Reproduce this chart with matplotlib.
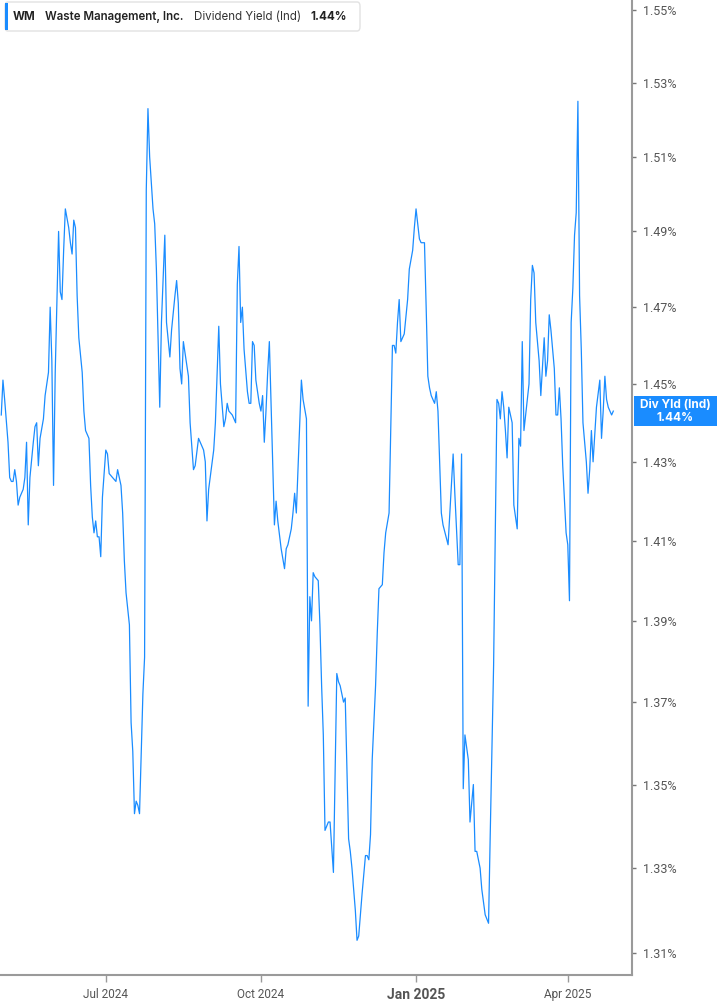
import pandas as pd
import matplotlib
matplotlib.use('Agg')
import matplotlib.pyplot as plt
from matplotlib.ticker import FixedLocator, NullLocator, FuncFormatter
from matplotlib.patches import Rectangle, FancyBboxPatch

# Dividend yield (indicated) for WM, %
fechas = [
    '2024-04-30', '2024-05-01', '2024-05-02', '2024-05-04', '2024-05-05', '2024-05-06', '2024-05-07',
    '2024-05-08', '2024-05-09', '2024-05-10', '2024-05-11', '2024-05-13', '2024-05-14', '2024-05-15',
    '2024-05-16', '2024-05-17', '2024-05-19', '2024-05-20', '2024-05-21', '2024-05-22', '2024-05-23',
    '2024-05-25', '2024-05-26', '2024-05-28', '2024-05-29', '2024-05-30', '2024-05-31', '2024-06-01',
    '2024-06-02', '2024-06-03', '2024-06-04', '2024-06-05', '2024-06-06', '2024-06-07', '2024-06-09',
    '2024-06-10', '2024-06-11', '2024-06-12', '2024-06-13', '2024-06-14', '2024-06-15', '2024-06-17',
    '2024-06-18', '2024-06-19', '2024-06-21', '2024-06-22', '2024-06-23', '2024-06-24', '2024-06-25',
    '2024-06-26', '2024-06-27', '2024-06-28', '2024-06-29', '2024-07-01', '2024-07-02', '2024-07-03',
    '2024-07-05', '2024-07-07', '2024-07-08', '2024-07-10', '2024-07-11', '2024-07-12', '2024-07-13',
    '2024-07-15', '2024-07-16', '2024-07-17', '2024-07-18', '2024-07-19', '2024-07-20', '2024-07-21',
    '2024-07-23', '2024-07-24', '2024-07-25', '2024-07-26', '2024-07-27', '2024-07-29', '2024-07-30',
    '2024-07-31', '2024-08-02', '2024-08-03', '2024-08-05', '2024-08-06', '2024-08-08', '2024-08-09',
    '2024-08-11', '2024-08-12', '2024-08-13', '2024-08-14', '2024-08-15', '2024-08-16', '2024-08-19',
    '2024-08-20', '2024-08-22', '2024-08-23', '2024-08-25', '2024-08-27', '2024-08-28', '2024-08-29',
    '2024-08-30', '2024-08-31', '2024-09-03', '2024-09-04', '2024-09-06', '2024-09-07', '2024-09-09',
    '2024-09-10', '2024-09-11', '2024-09-12', '2024-09-14', '2024-09-15', '2024-09-16', '2024-09-17',
    '2024-09-18', '2024-09-19', '2024-09-20', '2024-09-21', '2024-09-23', '2024-09-24', '2024-09-25',
    '2024-09-26', '2024-09-27', '2024-09-28', '2024-09-30', '2024-10-01', '2024-10-02', '2024-10-03',
    '2024-10-04', '2024-10-05', '2024-10-06', '2024-10-09', '2024-10-10', '2024-10-11', '2024-10-13',
    '2024-10-15', '2024-10-16', '2024-10-17', '2024-10-19', '2024-10-20', '2024-10-21', '2024-10-22',
    '2024-10-25', '2024-10-26', '2024-10-28', '2024-10-29', '2024-10-30', '2024-10-31', '2024-11-01',
    '2024-11-02', '2024-11-04', '2024-11-05', '2024-11-06', '2024-11-07', '2024-11-08', '2024-11-10',
    '2024-11-11', '2024-11-12', '2024-11-13', '2024-11-14', '2024-11-15', '2024-11-16', '2024-11-17',
    '2024-11-19', '2024-11-20', '2024-11-21', '2024-11-22', '2024-11-23', '2024-11-24', '2024-11-26',
    '2024-11-27', '2024-11-28', '2024-11-30', '2024-12-02', '2024-12-03', '2024-12-04', '2024-12-05',
    '2024-12-06', '2024-12-08', '2024-12-09', '2024-12-10', '2024-12-12', '2024-12-13', '2024-12-14',
    '2024-12-16', '2024-12-18', '2024-12-19', '2024-12-20', '2024-12-21', '2024-12-22', '2024-12-23',
    '2024-12-25', '2024-12-27', '2024-12-28', '2024-12-30', '2024-12-31', '2025-01-01', '2025-01-03',
    '2025-01-04', '2025-01-06', '2025-01-07', '2025-01-08', '2025-01-09', '2025-01-10', '2025-01-11',
    '2025-01-12', '2025-01-13', '2025-01-14', '2025-01-16', '2025-01-17', '2025-01-20', '2025-01-23',
    '2025-01-24', '2025-01-26', '2025-01-27', '2025-01-28', '2025-01-29', '2025-01-30', '2025-02-01',
    '2025-02-02', '2025-02-04', '2025-02-05', '2025-02-06', '2025-02-08', '2025-02-09', '2025-02-11',
    '2025-02-13', '2025-02-14', '2025-02-16', '2025-02-18', '2025-02-19', '2025-02-20', '2025-02-21',
    '2025-02-22', '2025-02-23', '2025-02-24', '2025-02-25', '2025-02-27', '2025-02-28', '2025-03-01',
    '2025-03-02', '2025-03-03', '2025-03-04', '2025-03-05', '2025-03-06', '2025-03-07', '2025-03-09',
    '2025-03-10', '2025-03-11', '2025-03-12', '2025-03-13', '2025-03-15', '2025-03-16', '2025-03-18',
    '2025-03-19', '2025-03-20', '2025-03-21', '2025-03-22', '2025-03-23', '2025-03-24', '2025-03-25',
    '2025-03-26', '2025-03-27', '2025-03-28', '2025-03-29', '2025-03-31', '2025-04-01', '2025-04-02',
    '2025-04-03', '2025-04-04', '2025-04-05', '2025-04-06', '2025-04-07', '2025-04-08', '2025-04-09',
    '2025-04-10', '2025-04-12', '2025-04-13', '2025-04-14', '2025-04-15', '2025-04-16', '2025-04-17',
    '2025-04-18', '2025-04-20', '2025-04-21', '2025-04-22', '2025-04-23', '2025-04-24', '2025-04-25',
    '2025-04-26', '2025-04-27', '2025-04-28',
]

rendimiento = [
    1.442, 1.451, 1.446, 1.435, 1.426, 1.425, 1.425, 1.428, 1.425, 1.419, 1.421, 1.423, 1.426, 1.435,
    1.414, 1.426, 1.435, 1.439, 1.440, 1.429, 1.436, 1.441, 1.447, 1.453, 1.470, 1.456, 1.424, 1.453,
    1.472, 1.490, 1.474, 1.472, 1.485, 1.496, 1.491, 1.487, 1.484, 1.493, 1.491, 1.473, 1.462, 1.453,
    1.443, 1.438, 1.436, 1.424, 1.416, 1.412, 1.415, 1.411, 1.411, 1.406, 1.421, 1.433, 1.432, 1.427,
    1.426, 1.425, 1.428, 1.424, 1.417, 1.405, 1.397, 1.389, 1.365, 1.358, 1.343, 1.346, 1.345, 1.343,
    1.372, 1.381, 1.501, 1.523, 1.510, 1.496, 1.492, 1.480, 1.444, 1.466, 1.489, 1.466, 1.457, 1.464,
    1.473, 1.477, 1.471, 1.454, 1.450, 1.461, 1.452, 1.440, 1.428, 1.429, 1.436, 1.434, 1.433, 1.430,
    1.415, 1.423, 1.433, 1.440, 1.465, 1.450, 1.439, 1.441, 1.445, 1.443, 1.442, 1.441, 1.440, 1.476,
    1.486, 1.466, 1.470, 1.459, 1.448, 1.445, 1.445, 1.461, 1.460, 1.451, 1.445, 1.443, 1.447, 1.435,
    1.443, 1.453, 1.461, 1.414, 1.420, 1.415, 1.408, 1.403, 1.408, 1.409, 1.413, 1.417, 1.422, 1.417,
    1.451, 1.446, 1.441, 1.369, 1.396, 1.390, 1.402, 1.401, 1.400, 1.389, 1.374, 1.362, 1.339, 1.341,
    1.341, 1.335, 1.329, 1.353, 1.377, 1.375, 1.374, 1.370, 1.371, 1.354, 1.337, 1.334, 1.330, 1.320,
    1.313, 1.314, 1.324, 1.333, 1.333, 1.332, 1.338, 1.356, 1.374, 1.387, 1.398, 1.399, 1.407, 1.412,
    1.417, 1.460, 1.460, 1.458, 1.466, 1.472, 1.461, 1.463, 1.472, 1.480, 1.485, 1.491, 1.496, 1.488,
    1.487, 1.487, 1.470, 1.452, 1.449, 1.447, 1.446, 1.445, 1.448, 1.443, 1.417, 1.414, 1.409, 1.432,
    1.422, 1.404, 1.404, 1.432, 1.349, 1.362, 1.356, 1.341, 1.350, 1.334, 1.334, 1.330, 1.325, 1.319,
    1.317, 1.338, 1.379, 1.446, 1.445, 1.441, 1.448, 1.444, 1.438, 1.431, 1.444, 1.440, 1.419, 1.416,
    1.413, 1.436, 1.434, 1.461, 1.438, 1.442, 1.450, 1.472, 1.481, 1.479, 1.466, 1.456, 1.447, 1.462,
    1.452, 1.456, 1.468, 1.464, 1.459, 1.454, 1.442, 1.442, 1.449, 1.441, 1.429, 1.412, 1.409, 1.395,
    1.466, 1.475, 1.489, 1.495, 1.525, 1.473, 1.459, 1.440, 1.430, 1.422, 1.428, 1.438, 1.430, 1.437,
    1.444, 1.451, 1.436, 1.443, 1.452, 1.446, 1.444, 1.443, 1.442, 1.443,
]

ticks_y = [1.31, 1.33, 1.35, 1.37, 1.39, 1.41, 1.43, 1.45, 1.47, 1.49, 1.51, 1.53, 1.55]
ticks_x = ['2024-07-01', '2024-10-01', '2025-01-01', '2025-04-01']
etiquetas_x = ['Jul 2024', 'Oct 2024', 'Jan 2025', 'Apr 2025']

fechas = pd.to_datetime(fechas)
ultimo = rendimiento[-1]

AZUL = '#1a8cff'
GRIS = '#9a9a9a'
TEXTO = '#555555'
W, H = 717, 1005

plt.rcParams['font.family'] = ['Roboto', 'DejaVu Sans']

fig = plt.figure(figsize=(W / 100, H / 100), dpi=100)
ax = fig.add_axes([0, 30 / H, 632 / W, 975 / H])

ax.plot(fechas, rendimiento, color=AZUL, linewidth=0.9)

ax.set_yscale('log')
ax.set_ylim(1.3049, 1.5528)
ax.set_xlim(pd.Timestamp('2024-04-29 06:00'), pd.Timestamp('2025-05-09 02:00'))

ax.yaxis.tick_right()
ax.yaxis.set_major_locator(FixedLocator(ticks_y))
ax.yaxis.set_minor_locator(NullLocator())
ax.yaxis.set_major_formatter(FuncFormatter(lambda v, p: f'{v:.2f}%'))
ax.tick_params(axis='y', which='major', length=3, width=1, color='#777777',
               labelcolor=TEXTO, labelsize=9, pad=5)

ax.set_xticks(pd.to_datetime(ticks_x))
ax.set_xticklabels(etiquetas_x)
ax.xaxis.set_minor_locator(NullLocator())
ax.tick_params(axis='x', length=5, width=1, color=GRIS, labelcolor=TEXTO,
               labelsize=8.5, pad=4)
for lbl in ax.get_xticklabels():
    if lbl.get_text() == 'Jan 2025':
        lbl.set_fontweight('bold')
        lbl.set_fontsize(10)

for lado in ['left', 'top']:
    ax.spines[lado].set_visible(False)
for lado in ['right', 'bottom']:
    ax.spines[lado].set_color(GRIS)
    ax.spines[lado].set_linewidth(1.5)

# etiqueta del ultimo valor en el eje derecho
y_frac = ax.transAxes.inverted().transform(ax.transData.transform((ax.get_xlim()[0], ultimo)))[1]
alto = 30 / 975
ax.add_patch(Rectangle((634 / 632, y_frac - alto / 2), 83 / 632, alto, transform=ax.transAxes,
                       facecolor=AZUL, edgecolor='none', clip_on=False))
ax.text((634 + 717) / 2 / 632, y_frac, f'Div Yld (Ind)\n{ultimo:.2f}%', transform=ax.transAxes,
        ha='center', va='center', color='white', fontsize=8.5, fontweight='bold',
        family=['Inter', 'DejaVu Sans'], linespacing=1.1)

# leyenda superior
fig.patches.append(FancyBboxPatch((5 / W, 1 - 31 / H), 355 / W, 29 / H,
                                  boxstyle='round,pad=0,rounding_size=0.004',
                                  transform=fig.transFigure, facecolor='white',
                                  edgecolor='#e2e2e2', linewidth=1))
fig.patches.append(Rectangle((5 / W, 1 - 30 / H), 3 / W, 27 / H, transform=fig.transFigure,
                             facecolor=AZUL, edgecolor='none'))
y_ley = 1 - 17 / H
fuente = ['Inter', 'DejaVu Sans']
tam = 8.3
fig.text(13 / W, y_ley, 'WM', fontsize=tam, fontweight='bold', color='#222222', va='center', family=fuente)
fig.text(45 / W, y_ley, 'Waste Management, Inc.', fontsize=tam, fontweight='semibold', color='#222222',
         va='center', family=fuente)
fig.text(194 / W, y_ley, 'Dividend Yield (Ind)', fontsize=tam, color='#333333', va='center', family=fuente)
fig.text(310 / W, y_ley, f'{ultimo:.2f}%', fontsize=tam, fontweight='bold', color='#222222',
         va='center', family=fuente)

plt.savefig('out.png', dpi=100)
